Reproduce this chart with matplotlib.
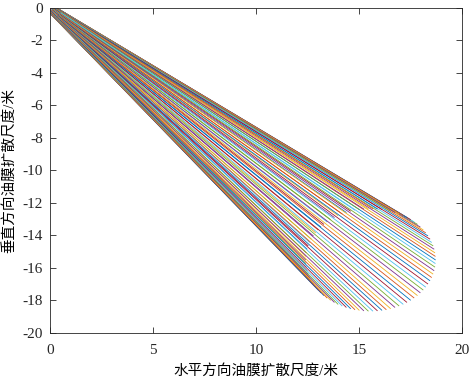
import matplotlib
matplotlib.use('Agg')
import matplotlib.pyplot as plt

# 起点（初始油膜边缘，近原点）
start_x = [0.53, 0.53, 0.53, 0.52, 0.52, 0.51, 0.51, 0.50, 0.49, 0.48, 0.47, 0.46,
           0.45, 0.43, 0.42, 0.41, 0.39, 0.37, 0.36, 0.34, 0.32, 0.31, 0.29,
           0.27, 0.25, 0.24, 0.22, 0.20, 0.19, 0.17, 0.15, 0.14, 0.13, 0.11,
           0.10, 0.09, 0.08, 0.07, 0.06, 0.05, 0.05, 0.04, 0.04, 0.03, 0.03,
           0.03, 0.03, 0.03, 0.04, 0.04, 0.05, 0.05, 0.06, 0.07, 0.08, 0.09,
           0.10, 0.11, 0.13, 0.14, 0.15, 0.17, 0.19, 0.20, 0.22, 0.24, 0.25, 0.27,
           0.29, 0.31, 0.32, 0.34, 0.36, 0.37, 0.39, 0.41, 0.42, 0.43, 0.45,
           0.46, 0.47, 0.48, 0.49, 0.50, 0.51, 0.51, 0.52, 0.52, 0.53, 0.53]
start_y = [-0.28, -0.26, -0.25, -0.23, -0.21, -0.19, -0.18, -0.16, -0.15, -0.13, -0.12, -0.11,
           -0.09, -0.08, -0.07, -0.06, -0.06, -0.05, -0.04, -0.04, -0.03, -0.03, -0.03,
           -0.03, -0.03, -0.03, -0.04, -0.04, -0.05, -0.06, -0.06, -0.07, -0.08, -0.09,
           -0.11, -0.12, -0.13, -0.15, -0.16, -0.18, -0.19, -0.21, -0.23, -0.25, -0.26,
           -0.28, -0.30, -0.31, -0.33, -0.35, -0.37, -0.38, -0.40, -0.41, -0.43, -0.44,
           -0.45, -0.47, -0.48, -0.49, -0.50, -0.50, -0.51, -0.52, -0.52, -0.53, -0.53, -0.53,
           -0.53, -0.53, -0.53, -0.52, -0.52, -0.51, -0.50, -0.50, -0.49, -0.48, -0.47,
           -0.45, -0.44, -0.43, -0.41, -0.40, -0.38, -0.37, -0.35, -0.33, -0.31, -0.30]

# 终点（扩散后油膜边缘）
end_x = [18.70, 18.69, 18.67, 18.63, 18.58, 18.51, 18.43, 18.33, 18.22, 18.10, 17.96, 17.82,
         17.66, 17.49, 17.31, 17.13, 16.93, 16.73, 16.52, 16.31, 16.10, 15.88, 15.66,
         15.44, 15.22, 15.00, 14.79, 14.58, 14.37, 14.17, 13.97, 13.79, 13.61, 13.44,
         13.28, 13.14, 13.00, 12.88, 12.77, 12.67, 12.59, 12.52, 12.47, 12.43, 12.41,
         12.40, 12.41, 12.43, 12.47, 12.52, 12.59, 12.67, 12.77, 12.88, 13.00, 13.14,
         13.28, 13.44, 13.61, 13.79, 13.97, 14.17, 14.37, 14.58, 14.79, 15.00, 15.22, 15.44,
         15.66, 15.88, 16.10, 16.31, 16.52, 16.73, 16.93, 17.13, 17.31, 17.49, 17.66,
         17.82, 17.96, 18.10, 18.22, 18.33, 18.43, 18.51, 18.58, 18.63, 18.67, 18.69]
end_y = [-15.50, -15.28, -15.06, -14.84, -14.63, -14.42, -14.22, -14.02, -13.83, -13.65, -13.48, -13.31,
         -13.16, -13.02, -12.89, -12.77, -12.67, -12.58, -12.50, -12.44, -12.40, -12.37, -12.35,
         -12.35, -12.37, -12.40, -12.44, -12.50, -12.58, -12.67, -12.77, -12.89, -13.02, -13.16,
         -13.31, -13.48, -13.65, -13.83, -14.02, -14.22, -14.42, -14.63, -14.84, -15.06, -15.28,
         -15.50, -15.72, -15.94, -16.16, -16.37, -16.58, -16.78, -16.98, -17.17, -17.35, -17.52,
         -17.69, -17.84, -17.98, -18.11, -18.23, -18.33, -18.42, -18.50, -18.56, -18.60, -18.63, -18.65,
         -18.65, -18.63, -18.60, -18.56, -18.50, -18.42, -18.33, -18.23, -18.11, -17.98, -17.84,
         -17.69, -17.52, -17.35, -17.17, -16.98, -16.78, -16.58, -16.37, -16.16, -15.94, -15.72]

xticks = [0, 5, 10, 15, 20]
yticks = [0, -2, -4, -6, -8, -10, -12, -14, -16, -18, -20]

# MATLAB 默认颜色顺序
colors = [(0, 0.447, 0.741), (0.85, 0.325, 0.098), (0.929, 0.694, 0.125),
          (0.494, 0.184, 0.556), (0.466, 0.674, 0.188), (0.301, 0.745, 0.933),
          (0.635, 0.078, 0.184)]

num_font = 'Liberation Serif'
cn_font = ['Liberation Serif', 'Noto Sans CJK SC']

fig = plt.figure(figsize=(4.72, 3.80), dpi=100)
ax = fig.add_axes([0.106, 0.124, 0.873, 0.855])

for i in range(len(end_x)):
    ax.plot([start_x[i], end_x[i]], [start_y[i], end_y[i]],
            color=colors[i % len(colors)], lw=0.6)

ax.set_xlim(0, 20)
ax.set_ylim(-20, 0)
ax.set_xticks(xticks)
ax.set_yticks(yticks)
ax.set_xticklabels([str(t) for t in xticks], family=num_font, fontsize=11)
ax.set_yticklabels([str(t) for t in yticks], family=num_font, fontsize=11)
ax.tick_params(direction='in', top=True, right=True, length=4, width=0.6,
               colors='#262626')
ax.tick_params(axis='x', pad=8)
ax.tick_params(axis='y', pad=5)
for s in ax.spines.values():
    s.set_linewidth(0.6)
    s.set_color('#262626')

ax.set_xlabel('水平方向油膜扩散尺度/米', family=cn_font, fontsize=10.5, labelpad=5)
ax.set_ylabel('垂直方向油膜扩散尺度/米', family=cn_font, fontsize=10.5, labelpad=5)

fig.savefig('out.png', dpi=100)
